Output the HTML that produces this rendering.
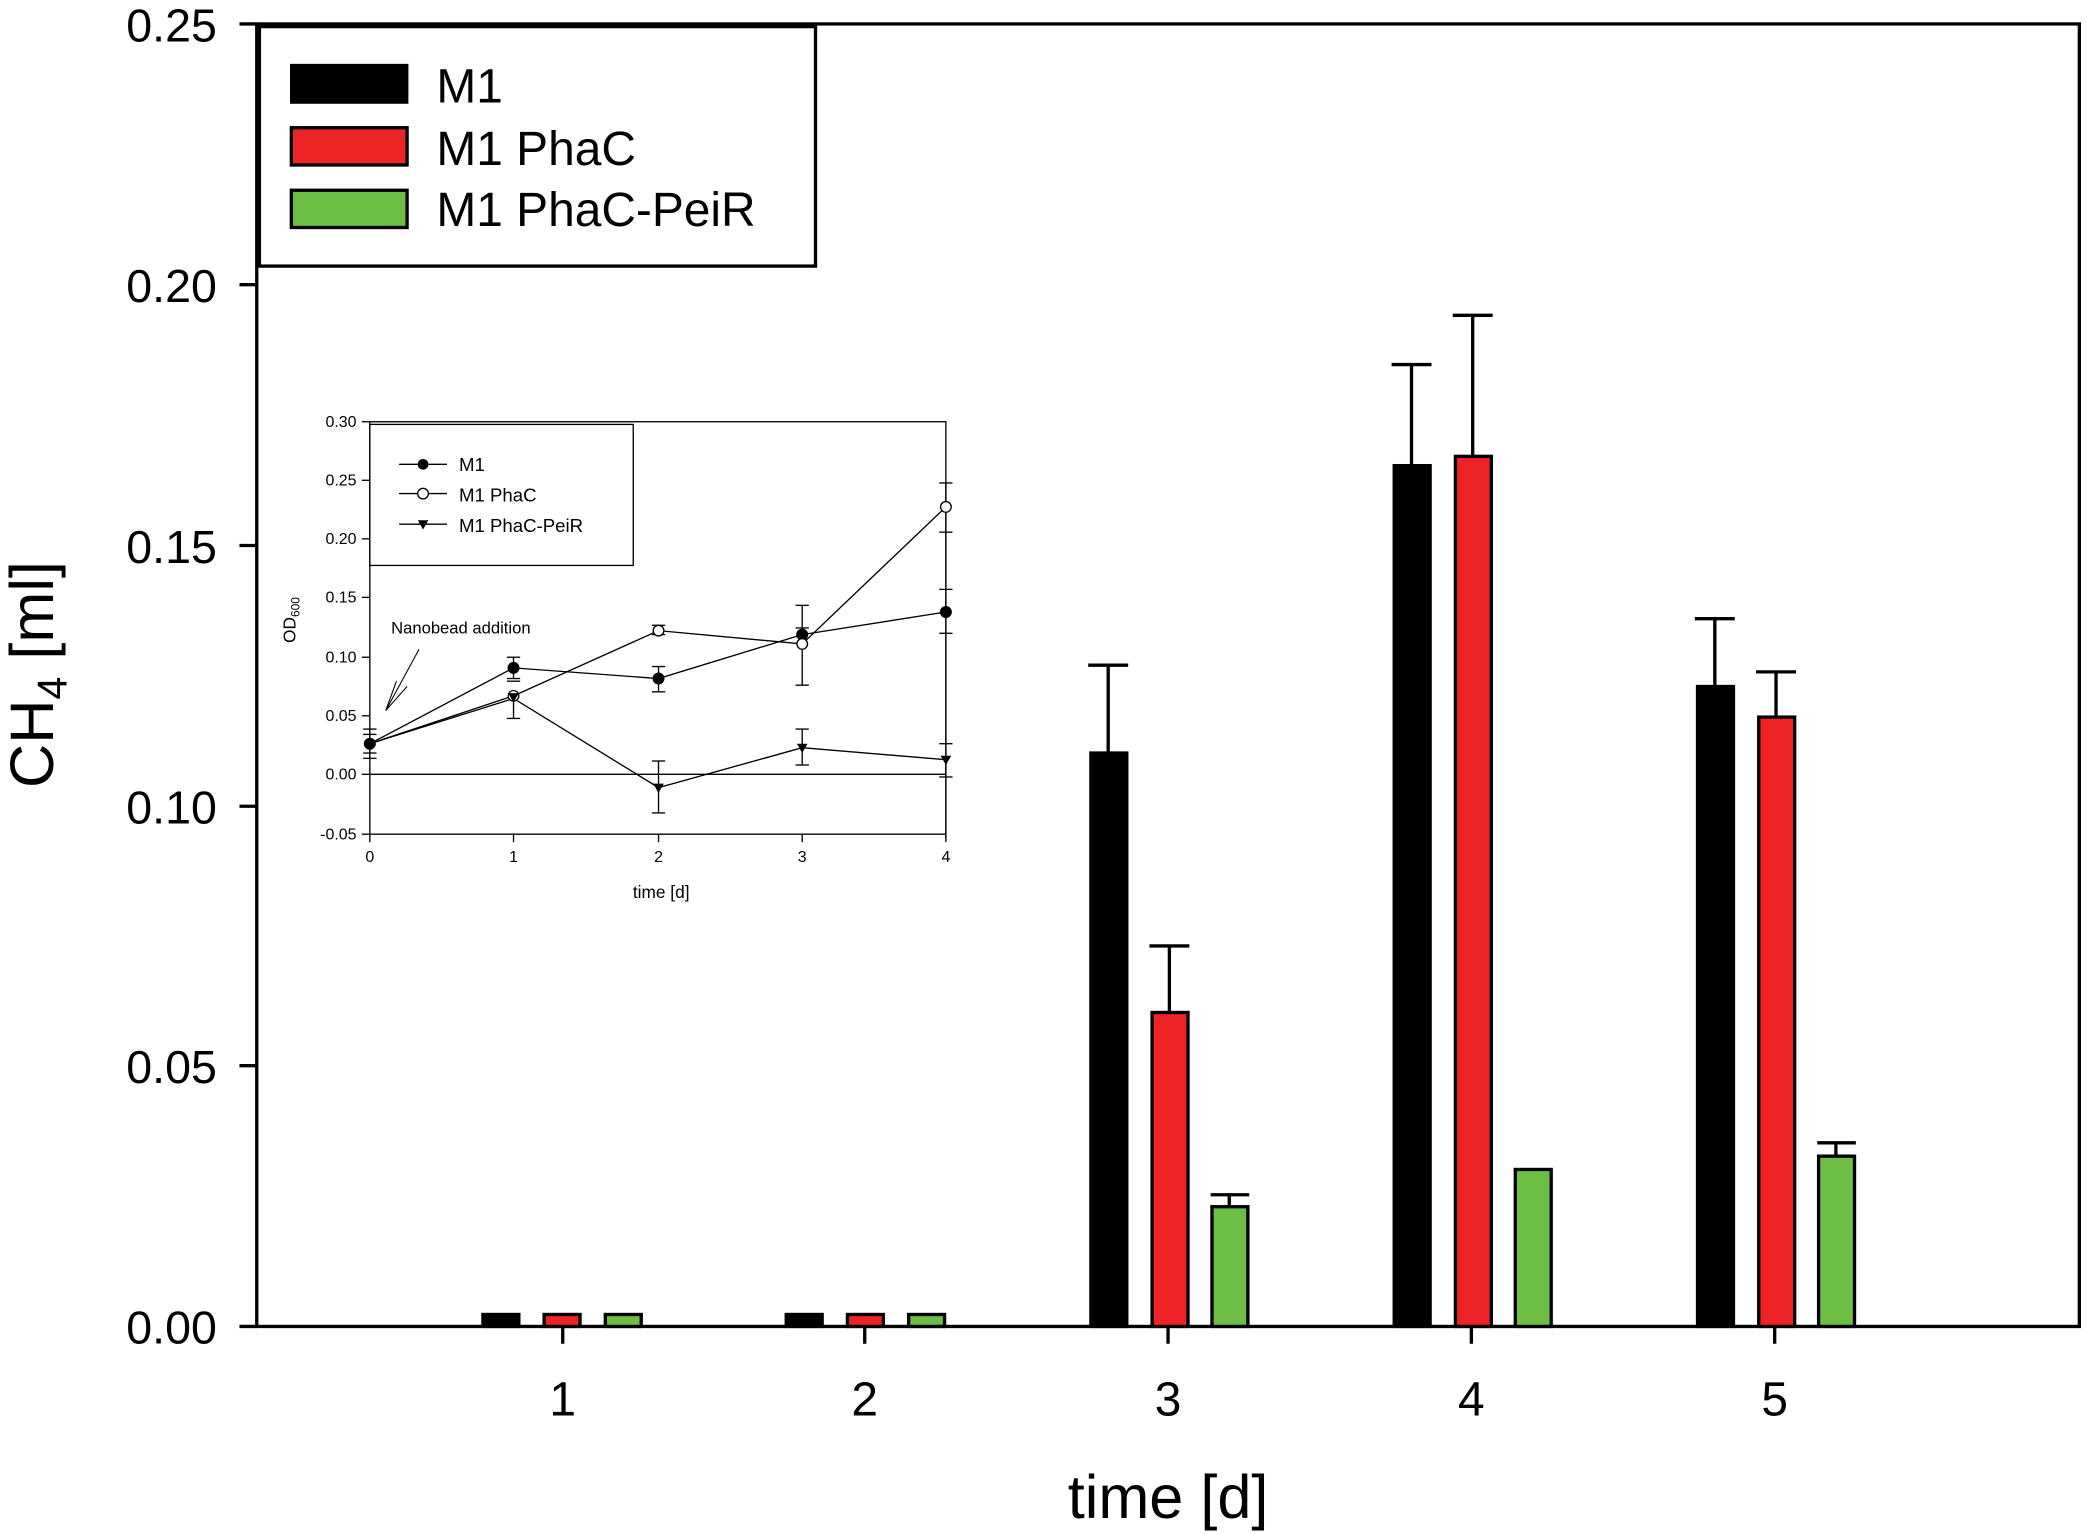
<!DOCTYPE html>
<html><head><meta charset="utf-8"><style>
html,body{margin:0;padding:0;background:#fff;}
svg{display:block;}
text{font-family:"Liberation Sans",Arial,sans-serif;fill:#000;}
</style></head><body>
<svg width="2086" height="1534" viewBox="0 0 1568 1153" preserveAspectRatio="none" xmlns="http://www.w3.org/2000/svg">
<rect width="1568" height="1153" fill="#fff"/>
<rect x="193" y="18" width="1370" height="979" fill="none" stroke="#000" stroke-width="2.5"/>
<g stroke="#000" stroke-width="2.5">
<line x1="180" y1="18" x2="193" y2="18"/>
<line x1="180" y1="214" x2="193" y2="214"/>
<line x1="180" y1="410" x2="193" y2="410"/>
<line x1="180" y1="606" x2="193" y2="606"/>
<line x1="180" y1="801" x2="193" y2="801"/>
<line x1="180" y1="997" x2="193" y2="997"/>
<line x1="423" y1="997" x2="423" y2="1010"/>
<line x1="650" y1="997" x2="650" y2="1010"/>
<line x1="878" y1="997" x2="878" y2="1010"/>
<line x1="1106" y1="997" x2="1106" y2="1010"/>
<line x1="1334" y1="997" x2="1334" y2="1010"/>
</g>
<g font-size="35" text-anchor="end">
<text x="163" y="31">0.25</text>
<text x="163" y="227">0.20</text>
<text x="163" y="423">0.15</text>
<text x="163" y="619">0.10</text>
<text x="163" y="814">0.05</text>
<text x="163" y="1010">0.00</text>
</g>
<g font-size="36" text-anchor="middle">
<text x="423" y="1064">1</text>
<text x="650" y="1064">2</text>
<text x="878" y="1064">3</text>
<text x="1106" y="1064">4</text>
<text x="1334" y="1064">5</text>
</g>
<text x="878" y="1141" font-size="46" text-anchor="middle">time [d]</text>
<text transform="translate(40,507) rotate(-90)" font-size="46" text-anchor="middle">CH<tspan font-size="31" dy="10">4</tspan><tspan dy="-10"> [ml]</tspan></text>

<g stroke="#000" stroke-width="2.5">
<line x1="833" y1="566" x2="833" y2="500"/><line x1="818" y1="500" x2="848" y2="500"/>
<line x1="879" y1="761" x2="879" y2="711"/><line x1="864" y1="711" x2="894" y2="711"/>
<line x1="924" y1="907" x2="924" y2="898"/><line x1="910" y1="898" x2="939" y2="898"/>
<line x1="1061" y1="350" x2="1061" y2="274"/><line x1="1046" y1="274" x2="1076" y2="274"/>
<line x1="1107" y1="343" x2="1107" y2="237"/><line x1="1092" y1="237" x2="1122" y2="237"/>
<line x1="1289" y1="516" x2="1289" y2="465"/><line x1="1274" y1="465" x2="1304" y2="465"/>
<line x1="1335" y1="539" x2="1335" y2="505"/><line x1="1320" y1="505" x2="1350" y2="505"/>
<line x1="1380" y1="869" x2="1380" y2="859"/><line x1="1366" y1="859" x2="1395" y2="859"/>
</g>
<g stroke="#000" stroke-width="2.5">
<rect x="363" y="988" width="27" height="9" fill="#000"/>
<rect x="409" y="988" width="27" height="9" fill="#ee2326"/>
<rect x="455" y="988" width="27" height="9" fill="#6dbe45"/>
<rect x="591" y="988" width="27" height="9" fill="#000"/>
<rect x="637" y="988" width="27" height="9" fill="#ee2326"/>
<rect x="683" y="988" width="27" height="9" fill="#6dbe45"/>
<rect x="820" y="566" width="27" height="431" fill="#000"/>
<rect x="866" y="761" width="27" height="236" fill="#ee2326"/>
<rect x="911" y="907" width="27" height="90" fill="#6dbe45"/>
<rect x="1048" y="350" width="27" height="647" fill="#000"/>
<rect x="1094" y="343" width="27" height="654" fill="#ee2326"/>
<rect x="1139" y="879" width="27" height="118" fill="#6dbe45"/>
<rect x="1276" y="516" width="27" height="481" fill="#000"/>
<rect x="1322" y="539" width="27" height="458" fill="#ee2326"/>
<rect x="1367" y="869" width="27" height="128" fill="#6dbe45"/>
</g>
<rect x="195" y="20" width="418" height="180" fill="#fff" stroke="#000" stroke-width="2.5"/>
<rect x="219" y="49" width="87" height="28" fill="#000" stroke="#000" stroke-width="2"/>
<rect x="219" y="96" width="87" height="28" fill="#ee2326" stroke="#000" stroke-width="2.5"/>
<rect x="219" y="143" width="87" height="28" fill="#6dbe45" stroke="#000" stroke-width="2.5"/>
<g font-size="36">
<text x="328" y="77">M1</text>
<text x="328" y="124">M1 PhaC</text>
<text x="328" y="170">M1 PhaC-PeiR</text>
</g>

<rect x="278" y="317" width="433" height="310" fill="#fff" stroke="#000" stroke-width="1"/>
<g stroke="#000" stroke-width="1">
<line x1="272" y1="317" x2="278" y2="317"/><line x1="272" y1="361" x2="278" y2="361"/>
<line x1="272" y1="405" x2="278" y2="405"/><line x1="272" y1="449" x2="278" y2="449"/>
<line x1="272" y1="494" x2="278" y2="494"/><line x1="272" y1="538" x2="278" y2="538"/>
<line x1="272" y1="582" x2="278" y2="582"/><line x1="272" y1="627" x2="278" y2="627"/>
<line x1="278" y1="627" x2="278" y2="633"/><line x1="386" y1="627" x2="386" y2="633"/>
<line x1="495" y1="627" x2="495" y2="633"/><line x1="603" y1="627" x2="603" y2="633"/>
<line x1="711" y1="627" x2="711" y2="633"/>
<line x1="278" y1="582" x2="711" y2="582"/>
</g>
<g font-size="12" text-anchor="end">
<text x="268" y="321">0.30</text><text x="268" y="365">0.25</text><text x="268" y="409">0.20</text>
<text x="268" y="453">0.15</text><text x="268" y="498">0.10</text><text x="268" y="542">0.05</text>
<text x="268" y="586">0.00</text><text x="268" y="631">-0.05</text>
</g>
<g font-size="12" text-anchor="middle">
<text x="278" y="648">0</text><text x="386" y="648">1</text><text x="495" y="648">2</text>
<text x="603" y="648">3</text><text x="711" y="648">4</text>
<text x="497" y="675" font-size="13">time [d]</text>
</g>
<text transform="translate(222,466) rotate(-90)" font-size="13" text-anchor="middle">OD<tspan font-size="9" dy="3">600</tspan></text>
<text x="294" y="476" font-size="12.5">Nanobead addition</text>
<g stroke="#000" stroke-width="0.8" fill="none">
<line x1="315" y1="488" x2="290" y2="534"/>
<line x1="298" y1="512" x2="290" y2="534"/>
<line x1="306" y1="516" x2="290" y2="534"/>
</g>
<g stroke="#000" stroke-width="1">
<line x1="278" y1="548" x2="278" y2="570"/><line x1="273" y1="548" x2="283" y2="548"/><line x1="273" y1="570" x2="283" y2="570"/>
<line x1="273" y1="552" x2="283" y2="552"/><line x1="273" y1="566" x2="283" y2="566"/>
<line x1="386" y1="494" x2="386" y2="510"/><line x1="381" y1="494" x2="391" y2="494"/><line x1="381" y1="510" x2="391" y2="510"/>
<line x1="386" y1="524" x2="386" y2="540"/><line x1="381" y1="540" x2="391" y2="540"/><line x1="381" y1="512" x2="391" y2="512"/>
<line x1="495" y1="501" x2="495" y2="520"/><line x1="490" y1="501" x2="500" y2="501"/><line x1="490" y1="520" x2="500" y2="520"/>
<line x1="490" y1="470" x2="500" y2="470"/><line x1="490" y1="477" x2="500" y2="477"/>
<line x1="495" y1="572" x2="495" y2="611"/><line x1="490" y1="572" x2="500" y2="572"/><line x1="490" y1="611" x2="500" y2="611"/>
<line x1="603" y1="455" x2="603" y2="515"/><line x1="598" y1="455" x2="608" y2="455"/><line x1="598" y1="515" x2="608" y2="515"/>
<line x1="598" y1="472" x2="608" y2="472"/>
<line x1="603" y1="548" x2="603" y2="575"/><line x1="598" y1="548" x2="608" y2="548"/><line x1="598" y1="575" x2="608" y2="575"/>
<line x1="711" y1="363" x2="711" y2="630"/><line x1="706" y1="363" x2="716" y2="363"/><line x1="706" y1="400" x2="716" y2="400"/>
<line x1="706" y1="443" x2="716" y2="443"/><line x1="706" y1="476" x2="716" y2="476"/>
<line x1="706" y1="559" x2="716" y2="559"/><line x1="706" y1="584" x2="716" y2="584"/>
</g>
<g stroke="#000" stroke-width="1" fill="none">
<polyline points="278,559 386,502 495,510 603,477 711,460"/>
<polyline points="278,559 386,523 495,474 603,484 711,381"/>
<polyline points="278,559 386,525 495,592 603,562 711,571"/>
</g>
<g fill="#000" stroke="#000" stroke-width="1">
<circle cx="278" cy="559" r="4"/><circle cx="386" cy="502" r="4"/><circle cx="495" cy="510" r="4"/><circle cx="603" cy="477" r="4"/><circle cx="711" cy="460" r="4"/>
</g>
<g fill="#fff" stroke="#000" stroke-width="1">
<circle cx="386" cy="523" r="4"/><circle cx="495" cy="474" r="4"/><circle cx="603" cy="484" r="4"/><circle cx="711" cy="381" r="4"/>
</g>
<g fill="#000">
<polygon points="382,521 390,521 386,528"/><polygon points="491,589 499,589 495,596"/>
<polygon points="599,559 607,559 603,566"/><polygon points="707,568 715,568 711,575"/>
</g>
<rect x="278" y="319" width="198" height="106" fill="#fff" stroke="#000" stroke-width="1"/>
<g stroke="#000" stroke-width="1"><line x1="300" y1="349" x2="336" y2="349"/><line x1="300" y1="371" x2="336" y2="371"/><line x1="300" y1="394" x2="336" y2="394"/></g>
<circle cx="318" cy="349" r="4" fill="#000"/>
<circle cx="318" cy="371" r="4" fill="#fff" stroke="#000"/>
<polygon points="314,391 322,391 318,398" fill="#000"/>
<g font-size="14">
<text x="345" y="354">M1</text><text x="345" y="377">M1 PhaC</text><text x="345" y="400">M1 PhaC-PeiR</text>
</g>
</svg>
</body></html>
